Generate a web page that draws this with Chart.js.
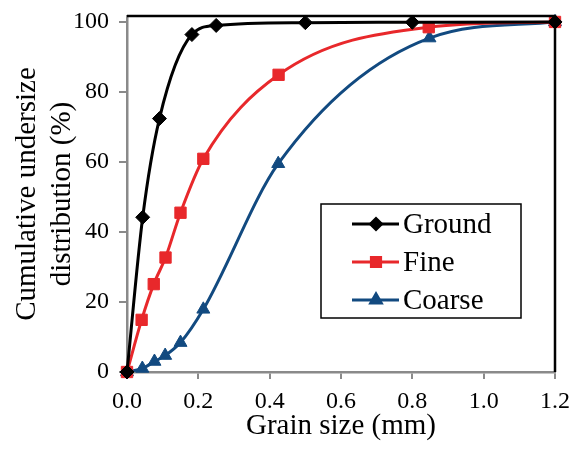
<!DOCTYPE html>
<html>
<head>
<meta charset="utf-8">
<script src="https://cdn.jsdelivr.net/npm/chart.js@4/dist/chart.umd.min.js"></script>
<style>
  html, body { margin: 0; padding: 0; background: #fff; }
  #wrap { width: 569px; height: 452px; }
</style>
</head>
<body>
<div id="wrap"><canvas id="psd"></canvas></div>
<script>
'use strict'

// data
const groundX = [0, 0.044, 0.091, 0.182, 0.25, 0.5, 0.8, 1.2];
const groundY = [0, 44.2, 72.4, 96.4, 99.0, 99.8, 99.9, 100];

const fineX = [0, 0.041, 0.075, 0.108, 0.15, 0.214, 0.425, 0.846, 1.2];
const fineY = [0, 14.9, 25.1, 32.7, 45.5, 60.9, 84.9, 98.5, 100];

const coarseX = [0, 0.043, 0.077, 0.107, 0.15, 0.214, 0.424, 0.848, 1.2];
const coarseY = [0, 1.0, 3.0, 4.7, 8.4, 17.9, 59.5, 95.4, 100];

const xTicks = [0, 0.2, 0.4, 0.6, 0.8, 1.0, 1.2];
const yTicks = [0, 20, 40, 60, 80, 100];

const BLACK = '#000000';
const RED = '#e8282b';
const BLUE = '#124a80';
const AXIS = '#8a8a8a';
const SERIF = '"Liberation Serif", "Times New Roman", serif';

function pts(xs, ys){
  return xs.map(function(x, i){ return {x: x, y: ys[i]}; });
}

function series(label, xs, ys, color, shape, r){
  return {
    label: label,
    data: pts(xs, ys),
    borderColor: color,
    backgroundColor: color,
    borderWidth: 3,
    pointStyle: shape,
    pointRadius: r,
    pointHoverRadius: r,
    pointBorderWidth: 1,
    cubicInterpolationMode: 'monotone',
    clip: false
  };
}

/* frame + legend inside plot */
const framePlugin = {
  id: 'frame',
  afterDraw(chart){
    const ctx = chart.ctx;
    const a = chart.chartArea;
    ctx.save();
    ctx.strokeStyle = BLACK;
    ctx.lineWidth = 2.5;
    ctx.beginPath();
    ctx.moveTo(a.left, a.top);
    ctx.lineTo(a.right, a.top);
    ctx.lineTo(a.right, a.bottom);
    ctx.stroke();

    // legend box
    const bx = 321, by = 204, bw = 200, bh = 114;
    ctx.fillStyle = '#fff';
    ctx.fillRect(bx, by, bw, bh);
    ctx.lineWidth = 1.5;
    ctx.strokeRect(bx, by, bw, bh);

    const rows = [224, 262, 300];
    chart.data.datasets.forEach(function(ds, i){
      const y = rows[i];
      ctx.strokeStyle = ds.borderColor;
      ctx.lineWidth = 3;
      ctx.beginPath();
      ctx.moveTo(352, y);
      ctx.lineTo(399, y);
      ctx.stroke();
      Chart.helpers.drawPoint(ctx, {
        pointStyle: ds.pointStyle,
        radius: ds.pointRadius - 1.5,
        rotation: 0,
        borderWidth: 1
      }, 376, y);
      ctx.fillStyle = ds.borderColor;
      ctx.fill();
      ctx.fillStyle = '#000';
      ctx.font = '29px ' + SERIF;
      ctx.textBaseline = 'middle';
      ctx.textAlign = 'left';
      ctx.fillText(ds.label, 403, y + 1);
    });
    ctx.restore();
  }
};

const cfg = {
  type: 'line',
  data: {
    datasets: [
      series('Ground', groundX, groundY, BLACK, 'rectRot', 7),
      series('Fine', fineX, fineY, RED, 'rect', 8),
      series('Coarse', coarseX, coarseY, BLUE, 'triangle', 7.5)
    ]
  },
  options: {
    responsive: true,
    maintainAspectRatio: false,
    animation: false,
    events: [],
    layout: { padding: { left: 0, right: 0, top: 16, bottom: 0 } },
    plugins: {
      legend: { display: false },
      tooltip: { enabled: false }
    },
    scales: {
      x: {
        type: 'linear',
        min: 0,
        max: 1.2,
        afterBuildTicks: function(s){ s.ticks = xTicks.map(function(v){ return {value: v}; }); },
        afterFit: function(s){ s.height = 80; s.paddingLeft = 0; s.paddingRight = 14; },
        border: { color: AXIS, width: 2.5 },
        grid: { drawOnChartArea: false, color: AXIS, lineWidth: 2, tickLength: 7 },
        ticks: {
          color: '#000',
          font: { family: SERIF, size: 24 },
          padding: 8,
          maxRotation: 0,
          autoSkip: false,
          callback: function(v){ return v.toFixed(1); }
        },
        title: {
          display: true,
          text: 'Grain size (mm)',
          color: '#000',
          font: { family: SERIF, size: 29 },
          padding: { top: 0, bottom: 8 }
        }
      },
      y: {
        min: 0,
        max: 101.7,
        afterBuildTicks: function(s){ s.ticks = yTicks.map(function(v){ return {value: v}; }); },
        afterFit: function(s){ s.width = 127; s.paddingTop = 0; s.paddingBottom = 0; },
        border: { color: AXIS, width: 2.5 },
        grid: { drawOnChartArea: false, color: AXIS, lineWidth: 2, tickLength: 8 },
        ticks: {
          color: '#000',
          font: { family: SERIF, size: 24 },
          padding: 10
        },
        title: {
          display: true,
          text: ['Cumulative undersize', 'distribution (%)'],
          color: '#000',
          font: { family: SERIF, size: 29, lineHeight: 1.2 },
          padding: { top: 10, bottom: 0 }
        }
      }
    }
  },
  plugins: [framePlugin]
};

const chart = new Chart(document.getElementById('psd').getContext('2d'), cfg);
</script>
</body>
</html>
